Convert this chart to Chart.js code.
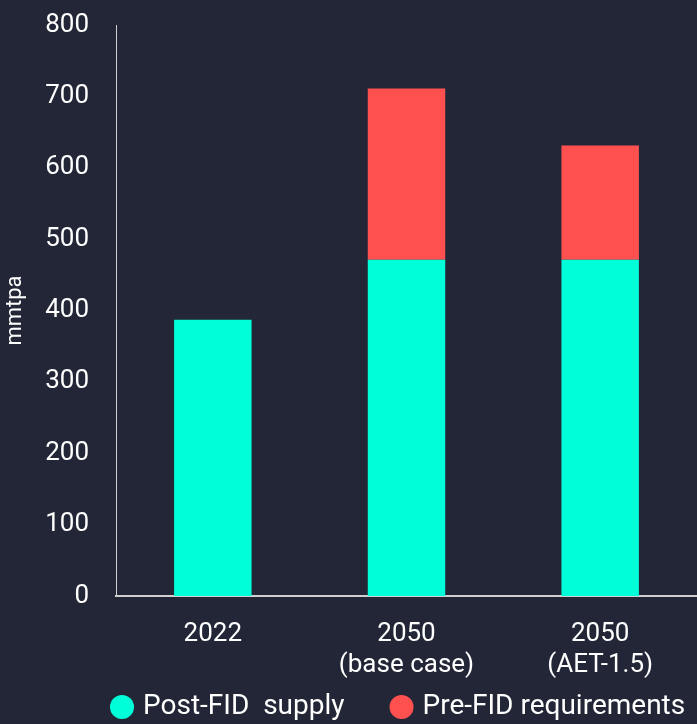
<!DOCTYPE html>
<html>
<head>
<meta charset="utf-8">
<script src="https://cdn.jsdelivr.net/npm/chart.js@4.4.1/dist/chart.umd.min.js"></script>
<style>
    html, body { margin: 0; padding: 0; background: #222636; }
    canvas { display: block; }
</style>
</head>
<body>
<canvas id="barChart" width="697" height="724"></canvas>
<script>
// data
const categories = ["2022", ["2050", "(base case)"], ["2050", "(AET-1.5)"]];
const postFidSupply = [387, 471, 471];
const preFidRequirements = [null, 240, 160];
const seriesLabels = ["Post-FID  supply", "Pre-FID requirements"];
const yMax = 800;
const yStep = 100;

const textFont = { family: "Roboto", size: 26 };

// move the legend row so it sits under the bars like the original
const legendShift = {
    id: "legendShift",
    afterLayout(chart) {
        const legend = chart.legend;
        legend.left += 65;
        legend.right += 65;
        legend.top -= 43;
        legend.bottom -= 43;
    },
};

const barChart = document.getElementById("barChart");
const barConfig = {
    type: "bar",
    data: {
        labels: categories,
        datasets: [
            {
                label: seriesLabels[0],
                data: postFidSupply,
                backgroundColor: "#00ffd8",
                barPercentage: 0.4,
                categoryPercentage: 1,
            },
            {
                label: seriesLabels[1],
                data: preFidRequirements,
                backgroundColor: "#ff5050",
                barPercentage: 0.4,
                categoryPercentage: 1,
            },
        ],
    },
    options: {
        responsive: false,
        animation: false,
        layout: {
            padding: { top: 25, right: 0, left: 0, bottom: -50 },
        },
        scales: {
            x: {
                stacked: true,
                grid: { display: false },
                border: { color: "#d0d0d0", width: 2 },
                ticks: { color: "#ffffff", font: textFont, padding: 15 },
                afterFit(scale) {
                    scale.height = 90;
                },
            },
            y: {
                stacked: true,
                min: 0,
                max: yMax,
                grid: { display: false },
                border: { color: "#d0d0d0", width: 1 },
                ticks: { stepSize: yStep, color: "#ffffff", font: textFont, padding: 19 },
                title: {
                    display: true,
                    text: "mmtpa",
                    color: "#ffffff",
                    font: { family: "Roboto", size: 22 },
                    padding: { top: 2, bottom: 0 },
                },
                afterFit(scale) {
                    scale.width = 116;
                    scale.paddingTop = 0;
                },
            },
        },
        plugins: {
            tooltip: { enabled: false },
            legend: {
                position: "bottom",
                align: "start",
                labels: {
                    color: "#ffffff",
                    font: { family: "Roboto", size: 28 },
                    usePointStyle: true,
                    pointStyle: "circle",
                    boxHeight: 17,
                    boxWidth: 14,
                    padding: 50,
                },
            },
        },
    },
    plugins: [legendShift],
};

const supplyBarChart = new Chart(barChart, barConfig);
</script>
</body>
</html>
